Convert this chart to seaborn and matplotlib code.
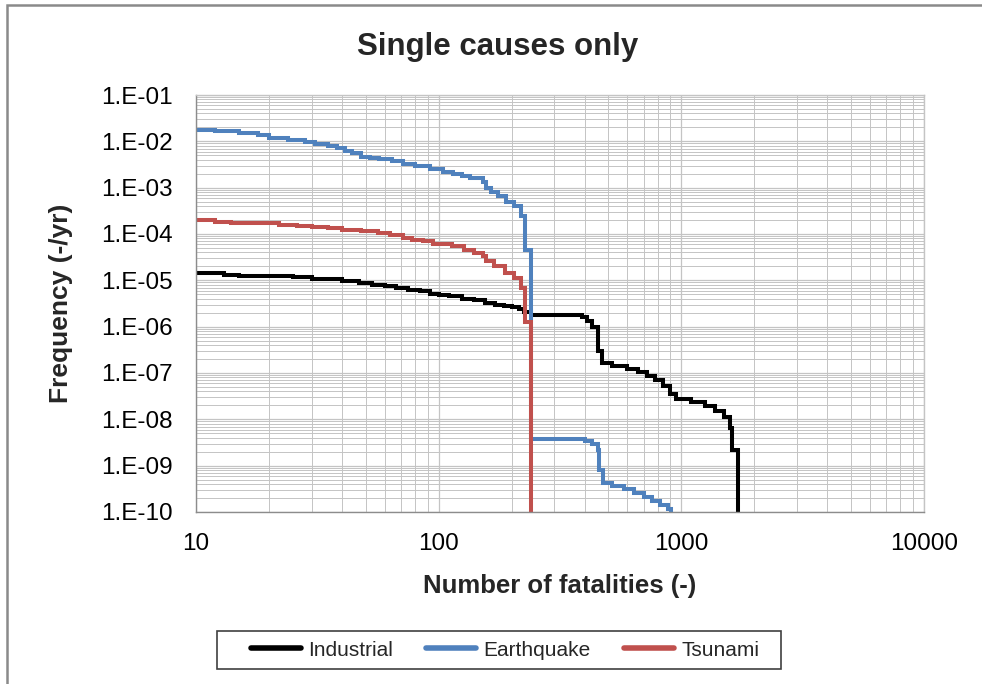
"""F-N curves: single causes only."""

import matplotlib as mpl
import matplotlib.pyplot as plt
import matplotlib.ticker as ticker
import numpy as np
import pandas as pd
import seaborn as sns
from matplotlib.lines import Line2D
from matplotlib.patches import Rectangle

# Step points (fatalities where a new frequency level starts, frequency)
industrial_n = [10, 13, 15, 25, 30, 40, 47, 53, 60, 67, 75, 84, 92, 100, 110, 125,
                140, 155, 170, 185, 200, 215, 225, 240, 330, 390, 410, 430, 455,
                470, 520, 600, 660, 720, 780, 840, 900, 950, 1100, 1250, 1380,
                1500, 1580, 1620, 1720]
industrial_f = [1.45e-5, 1.3e-5, 1.22e-5, 1.18e-5, 1.07e-5, 9.5e-6, 8.8e-6, 8.1e-6,
                7.5e-6, 6.9e-6, 6.3e-6, 5.8e-6, 5.1e-6, 4.8e-6, 4.5e-6, 4.0e-6,
                3.7e-6, 3.3e-6, 3.0e-6, 2.8e-6, 2.6e-6, 2.4e-6, 2.1e-6, 1.8e-6,
                1.75e-6, 1.6e-6, 1.3e-6, 1.0e-6, 3.0e-7, 1.65e-7, 1.45e-7, 1.25e-7,
                1.05e-7, 8.5e-8, 7.0e-8, 5.3e-8, 3.6e-8, 2.7e-8, 2.4e-8, 1.9e-8,
                1.5e-8, 1.15e-8, 6.5e-9, 2.2e-9, 1e-12]

earthquake_n = [10, 12, 15, 18, 20, 24, 28, 31, 35, 38, 41, 44, 48, 52, 57, 64, 71,
                80, 92, 104, 115, 125, 135, 153, 156, 165, 175, 190, 205, 218, 226,
                240, 400, 430, 455, 460, 475, 520, 580, 640, 700, 760, 820, 880, 910]
earthquake_f = [1.8e-2, 1.7e-2, 1.53e-2, 1.35e-2, 1.2e-2, 1.06e-2, 9.5e-3, 8.9e-3,
                8.0e-3, 7.2e-3, 6.3e-3, 5.6e-3, 4.7e-3, 4.4e-3, 4.2e-3, 3.7e-3,
                3.2e-3, 2.9e-3, 2.5e-3, 2.2e-3, 2.0e-3, 1.8e-3, 1.6e-3, 1.35e-3,
                9.8e-4, 8.0e-4, 6.5e-4, 5.0e-4, 4.0e-4, 2.5e-4, 4.6e-5, 3.8e-9,
                3.4e-9, 2.9e-9, 2.2e-9, 8.0e-10, 4.2e-10, 3.6e-10, 3.1e-10, 2.6e-10,
                2.1e-10, 1.7e-10, 1.4e-10, 1.15e-10, 1e-12]

tsunami_n = [10, 12, 14, 22, 26, 30, 35, 40, 48, 56, 63, 71, 78, 86, 95, 113, 127,
             140, 153, 156, 169, 187, 205, 218, 226, 240]
tsunami_f = [2.05e-4, 1.85e-4, 1.7e-4, 1.6e-4, 1.5e-4, 1.42e-4, 1.33e-4, 1.24e-4,
             1.15e-4, 1.06e-4, 9.5e-5, 8.4e-5, 7.6e-5, 7.0e-5, 6.2e-5, 5.4e-5,
             4.5e-5, 3.9e-5, 3.4e-5, 2.6e-5, 2.05e-5, 1.45e-5, 1.1e-5, 7.0e-6,
             1.25e-6, 1e-12]

series_names = ["Industrial", "Earthquake", "Tsunami"]
series_colors = ["#000000", "#4F81BD", "#C0504D"]

x_ticks = [10, 100, 1000, 10000]
y_ticks = [1e-10, 1e-9, 1e-8, 1e-7, 1e-6, 1e-5, 1e-4, 1e-3, 1e-2, 1e-1]

df = pd.concat([
    pd.DataFrame({"n": industrial_n, "f": industrial_f, "cause": "Industrial"}),
    pd.DataFrame({"n": earthquake_n, "f": earthquake_f, "cause": "Earthquake"}),
    pd.DataFrame({"n": tsunami_n, "f": tsunami_f, "cause": "Tsunami"}),
], ignore_index=True)

sns.set_theme(style="white")
mpl.rcParams["font.family"] = ["Liberation Sans", "DejaVu Sans"]

W, H = 982, 684
fig = plt.figure(figsize=(W / 100, H / 100), dpi=100)
ax = fig.add_axes([196 / W, 1 - 512 / H, (924 - 196) / W, (512 - 95) / H])

grid_c = "#C4C4C4"
for name, color in zip(series_names, series_colors):
    sub = df[df["cause"] == name]
    sns.lineplot(data=sub, x="n", y="f", ax=ax, color=color, linewidth=2.9,
                 estimator=None, sort=False, drawstyle="steps-post",
                 legend=False, solid_joinstyle="miter")

ax.set_xscale("log")
ax.set_yscale("log")
ax.set_xlim(10, 10000)
ax.set_ylim(1e-10, 1e-1)
ax.set_xticks(x_ticks)
ax.set_yticks(y_ticks)
ax.xaxis.set_major_formatter(ticker.FuncFormatter(lambda v, p: f"{int(round(v))}"))
ax.yaxis.set_major_formatter(
    ticker.FuncFormatter(lambda v, p: f"1.E{int(round(np.log10(v))):+03d}"))
ax.xaxis.set_minor_locator(ticker.LogLocator(base=10, subs=np.arange(2, 10)))
ax.yaxis.set_minor_locator(ticker.LogLocator(base=10, subs=np.arange(2, 10), numticks=20))
ax.xaxis.set_minor_formatter(ticker.NullFormatter())
ax.yaxis.set_minor_formatter(ticker.NullFormatter())

ax.grid(True, which="major", color=grid_c, linewidth=0.9)
ax.grid(True, which="minor", color=grid_c, linewidth=0.7)
ax.set_axisbelow(True)

for side, spine in ax.spines.items():
    spine.set_visible(True)
    spine.set_color("#8C8C8C" if side in ("left", "bottom") else grid_c)
    spine.set_linewidth(1.0)

ax.tick_params(axis="both", which="major", direction="out", length=6, width=1,
               color="#8C8C8C", labelsize=17.5, labelcolor="black")
ax.tick_params(axis="y", which="major", pad=11)
ax.tick_params(axis="x", which="major", pad=9)
ax.tick_params(axis="both", which="minor", length=0)

ax.set_xlabel("Number of fatalities (-)", fontsize=18.5, fontweight="bold", labelpad=14)
ax.set_ylabel("Frequency (-/yr)", fontsize=19, fontweight="bold", labelpad=20)

fig.text(498 / W, 1 - 47 / H, "Single causes only", fontsize=22.5,
         fontweight="bold", ha="center", va="center")

handles = [Line2D([], [], color=c, linewidth=4) for c in series_colors]
fig.legend(handles, series_names, loc="center", ncol=3,
           bbox_to_anchor=(505 / W, 1 - 650 / H), fontsize=15,
           frameon=False, handlelength=2.4, handletextpad=0.35,
           columnspacing=1.6, borderpad=0.45, borderaxespad=0)
# legend box as in the reference (wider than its entries)
fig.add_artist(Rectangle((217 / W, 1 - 669 / H), (781 - 217) / W, (669 - 631) / H,
                         transform=fig.transFigure, fill=False,
                         edgecolor="#404040", linewidth=1.2))

# chart-area border (top and left visible in the reference)
fig.add_artist(Rectangle((7 / W, -0.1), 1.2, 1 - 5 / H + 0.1,
                         transform=fig.transFigure, fill=False,
                         edgecolor="#8A8A8A", linewidth=1.8))

fig.savefig("out.png", dpi=100)
